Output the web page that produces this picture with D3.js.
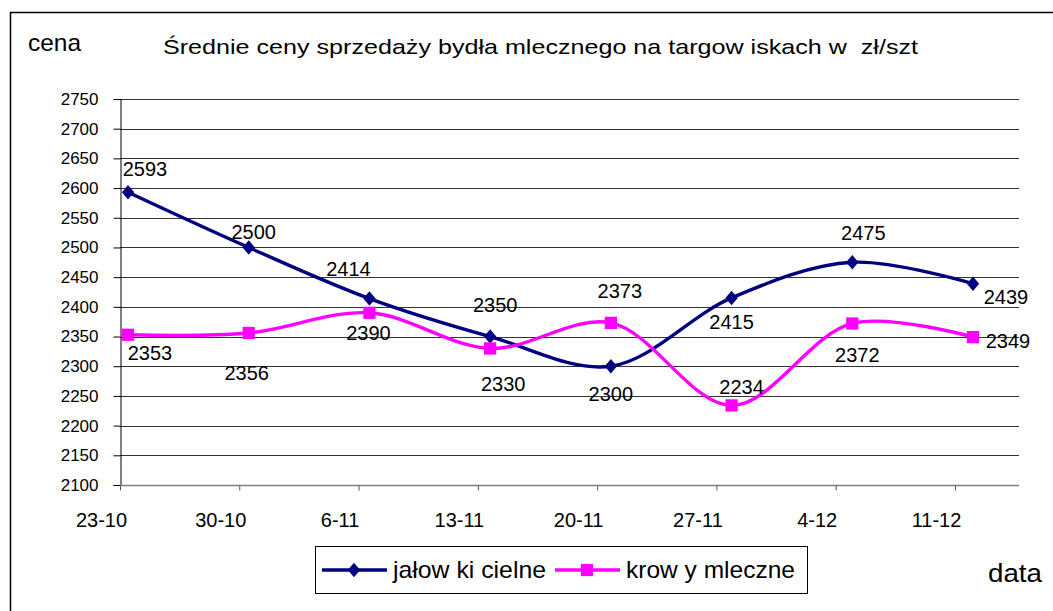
<!DOCTYPE html>
<html>
<head>
<meta charset="utf-8">
<script src="https://cdn.jsdelivr.net/npm/d3@7"></script>
<style>
body { margin: 0; background: #fff; }
svg { display: block; }
text { font-family: "Liberation Sans", Arial, sans-serif; fill: #000; white-space: pre; }
</style>
</head>
<body>
<svg id="chart" width="1053" height="611"></svg>
<script>
// dane z wykresu
const dates = ['23-10', '30-10', '6-11', '13-11', '20-11', '27-11', '4-12', '11-12'];
const jalowki = [2593, 2500, 2414, 2350, 2300, 2415, 2475, 2439];
const krowy = [2353, 2356, 2390, 2330, 2373, 2234, 2372, 2349];
const yTicks = d3.range(2100, 2751, 50);
const seriesNames = ['jałow ki cielne', 'krow y mleczne'];
const title = 'Średnie ceny sprzedaży bydła mlecznego na targow iskach w  zł/szt';

// label offsets (px) from each point
const offJal = [[17,-23],[5,-16],[-21,-30],[5,-32],[0,28],[0,24],[11,-30],[33,13]];
const offKrowy = [[22,18],[-2,40],[-1,20],[13,35],[9,-32],[10,-19],[5,31],[35,4]];

const svg = d3.select('#chart');
const plotL = 120, plotR = 1019, plotT = 99, plotB = 485;

// ramka
svg.append('rect')
  .attr('x', 10.5).attr('y', 12.5)
  .attr('width', 1060).attr('height', 700)
  .attr('fill', 'none').attr('stroke', '#000').attr('stroke-width', 1.5);

const y = d3.scaleLinear().domain([2100, 2750]).range([plotB, plotT]);
const xTick = d3.scalePoint().domain(dates).range([plotL, 955]);
const x = d3.scalePoint().domain(dates).range([128, 973]);

// grid
svg.append('g').selectAll('line')
  .data(yTicks.slice(1))
  .join('line')
  .attr('x1', plotL).attr('x2', plotR)
  .attr('y1', d => Math.round(y(d)) + 0.5).attr('y2', d => Math.round(y(d)) + 0.5)
  .attr('stroke', '#333').attr('stroke-width', 1);

// y axis
const yAxis = svg.append('g')
  .attr('transform', 'translate(' + (plotL + 0.5) + ',0)')
  .call(d3.axisLeft(y).tickValues(yTicks).tickSize(7).tickPadding(15).tickFormat(d3.format('d')));
yAxis.select('.domain').attr('stroke', '#000');
yAxis.selectAll('.tick line').attr('stroke', '#000');
yAxis.selectAll('text').attr('font-size', 17).attr('font-family', '"Liberation Sans", Arial, sans-serif');

// x axis
const xAxis = svg.append('g')
  .attr('transform', 'translate(0,' + (plotB + 0.5) + ')')
  .call(d3.axisBottom(xTick).tickSize(5).tickPadding(22));
xAxis.select('.domain').attr('d', 'M' + plotL + ',0H' + plotR).attr('stroke', '#808080').attr('stroke-width', 1.5);
xAxis.selectAll('.tick line').attr('stroke', '#555');
xAxis.selectAll('text').attr('font-size', 20).attr('dx', -19)
  .attr('font-family', '"Liberation Sans", Arial, sans-serif');

// markers
const diamond = {
  draw(ctx, size) {
    const w = size * 0.44, h = size * 0.52;
    ctx.moveTo(0, -h); ctx.lineTo(w, 0); ctx.lineTo(0, h); ctx.lineTo(-w, 0); ctx.closePath();
  }
};

const line = d3.line()
  .x((d, i) => x(dates[i]))
  .y(d => y(d))
  .curve(d3.curveCatmullRom.alpha(0.5));

const series = [
  { name: seriesNames[0], values: jalowki, color: '#000080', sym: d3.symbol(diamond, 14), off: offJal, legW: 153 },
  { name: seriesNames[1], values: krowy, color: '#FF00FF', sym: d3.symbol(d3.symbolSquare, 150), off: offKrowy, legW: 169 }
];

series.forEach(s => {
  svg.append('path')
    .datum(s.values)
    .attr('d', line)
    .attr('fill', 'none')
    .attr('stroke', s.color)
    .attr('stroke-width', 3.4)
    .attr('stroke-linejoin', 'round');
  svg.append('g').selectAll('path')
    .data(s.values)
    .join('path')
    .attr('transform', (d, i) => 'translate(' + x(dates[i]) + ',' + y(d) + ')')
    .attr('d', s.sym)
    .attr('fill', s.color);
});

series.forEach(s => {
  svg.append('g').selectAll('text')
    .data(s.values)
    .join('text')
    .attr('x', (d, i) => x(dates[i]) + s.off[i][0])
    .attr('y', (d, i) => y(d) + s.off[i][1])
    .attr('dy', '0.36em')
    .attr('text-anchor', 'middle')
    .attr('font-size', 20)
    .text(d => d);
});

// titles
svg.append('text').attr('x', 163).attr('y', 54).attr('font-size', 21)
  .attr('textLength', 755).attr('lengthAdjust', 'spacingAndGlyphs').text(title);
svg.append('text').attr('x', 28).attr('y', 51).attr('font-size', 24)
  .attr('textLength', 53).attr('lengthAdjust', 'spacingAndGlyphs').text('cena');
svg.append('text').attr('x', 988).attr('y', 582).attr('font-size', 25)
  .attr('textLength', 54).attr('lengthAdjust', 'spacingAndGlyphs').text('data');

// legenda
const leg = svg.append('g');
leg.append('rect')
  .attr('x', 315.5).attr('y', 546.5).attr('width', 492).attr('height', 47)
  .attr('fill', '#fff').attr('stroke', '#000').attr('stroke-width', 1);
const legX = [322, 555];
series.forEach((s, i) => {
  const g = leg.append('g').attr('transform', 'translate(' + legX[i] + ',570)');
  g.append('line').attr('x1', 0).attr('x2', 65).attr('y1', 0).attr('y2', 0)
    .attr('stroke', s.color).attr('stroke-width', 3.4);
  g.append('path').attr('transform', 'translate(32,0)').attr('d', s.sym).attr('fill', s.color);
  g.append('text').attr('x', 71).attr('y', 8).attr('font-size', 24)
    .attr('textLength', s.legW).attr('lengthAdjust', 'spacingAndGlyphs').text(s.name);
});
</script>
</body>
</html>
